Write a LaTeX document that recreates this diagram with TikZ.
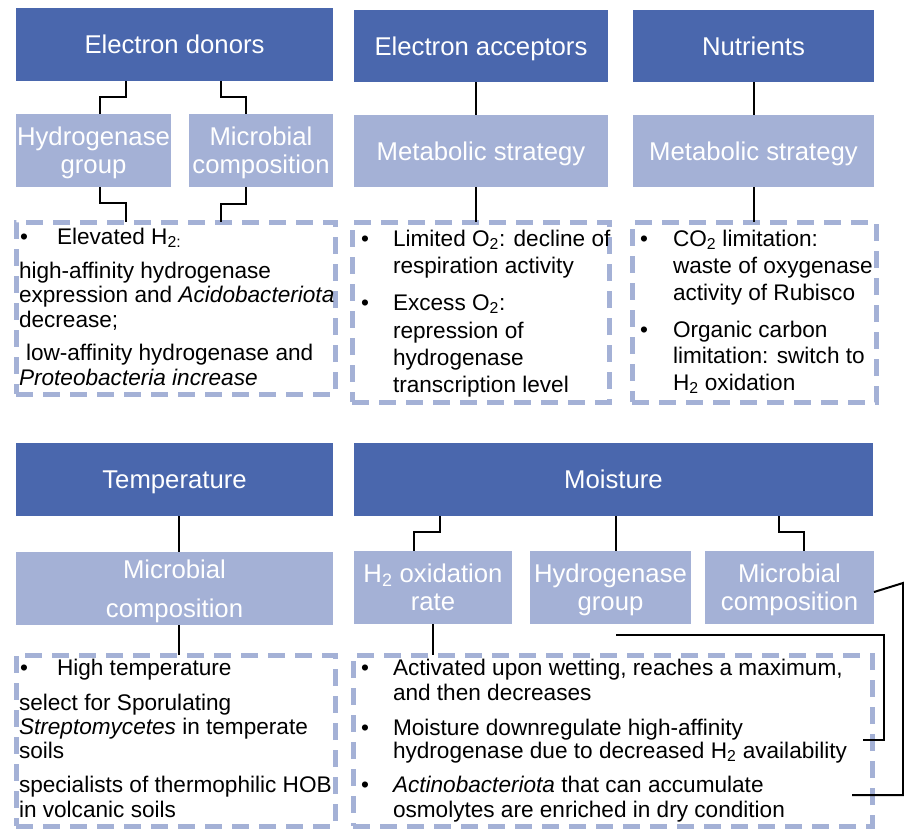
\documentclass[tikz,border=0pt]{standalone}
\usepackage{fontspec}
\setmainfont{Liberation Sans}
\definecolor{dkblue}{RGB}{74,103,173}
\definecolor{ltblue}{RGB}{164,177,214}
\newcommand{\titfont}{\fontsize{25.7}{28}\selectfont}
\newcommand{\bodfont}{\fontsize{22.6}{25}\selectfont}
\begin{document}
\begin{tikzpicture}[x=1pt,y=-1pt,
  darkbox/.style={fill=dkblue, text=white, font=\titfont, inner sep=0pt, outer sep=0pt, align=center, text depth=0pt},
  lightbox/.style={fill=ltblue, text=white, font=\titfont, inner sep=0pt, outer sep=0pt, align=center, text depth=0pt},
  dashbox/.style={draw=ltblue, line width=5pt, dash pattern=on 17pt off 10pt, inner sep=0pt, outer sep=0pt},
  conn/.style={draw=black, line width=2pt},
  txt/.style={anchor=base west, inner sep=0pt, outer sep=0pt, font=\bodfont, text=black}]
\useasboundingbox (0,0) rectangle (904,831);

% ---------- top row ----------
\node[darkbox, minimum width=317pt, minimum height=73pt] (ed) at (174.5,44.5) {Electron donors};
\node[darkbox, minimum width=254pt, minimum height=72pt] (ea) at (481,46) {Electron acceptors};
\node[darkbox, minimum width=241pt, minimum height=72pt] (nu) at (753.5,46) {Nutrients};

\node[lightbox, minimum width=155pt, minimum height=73pt] (hga) at (93.5,150.5) {Hydrogenase\\group};
\node[lightbox, minimum width=144pt, minimum height=73pt] (mca) at (261,150.5) {Microbial\\composition};
\node[lightbox, minimum width=254pt, minimum height=72pt] (msa) at (481,151) {Metabolic strategy};
\node[lightbox, minimum width=241pt, minimum height=72pt] (msb) at (753.5,151) {Metabolic strategy};

\node[dashbox, minimum width=319pt, minimum height=172pt] (da) at (175.5,308) {};
\node[dashbox, minimum width=257pt, minimum height=180pt] (db) at (480.5,312) {};
\node[dashbox, minimum width=244pt, minimum height=180pt] (dc) at (754,312) {};

% ---------- bottom row ----------
\node[darkbox, minimum width=317pt, minimum height=73pt] (te) at (174.5,479.5) {Temperature};
\node[darkbox, minimum width=519pt, minimum height=73pt] (mo) at (613.5,479.5) {Moisture};

\node[lightbox, minimum width=317pt, minimum height=73pt, font=\fontsize{25.7}{39}\selectfont] (mcc) at (174.5,588.5) {Microbial\\composition};
\node[lightbox, minimum width=158pt, minimum height=73pt] (hr) at (433,587.5) {H\textsubscript{2} oxidation\\rate};
\node[lightbox, minimum width=161pt, minimum height=73pt] (hgb) at (610.5,587.5) {Hydrogenase\\group};
\node[lightbox, minimum width=169pt, minimum height=73pt] (mcb) at (789.5,587.5) {Microbial\\composition};

\node[dashbox, minimum width=319pt, minimum height=171pt] (dd) at (175.5,740.5) {};
\node[dashbox, minimum width=519pt, minimum height=171pt] (de) at (612.5,740.5) {};

% ---------- connectors ----------
\draw[conn] ([xshift=-48.5pt]ed.south) -- ++(0,16) -| ([xshift=6.5pt]hga.north);
\draw[conn] ([xshift=46.5pt]ed.south) -- ++(0,16) -| ([xshift=-15pt]mca.north);
\draw[conn] ([xshift=6.5pt]hga.south) -- ++(0,16) -| ([xshift=-49.5pt]da.north);
\draw[conn] ([xshift=-15pt]mca.south) -- ++(0,17) -| ([xshift=45.5pt]da.north);
\draw[conn] ([xshift=-5pt]ea.south) -- ([xshift=-5pt]msa.north);
\draw[conn] ([xshift=-5pt]msa.south) -- ([xshift=-4.5pt]db.north);
\draw[conn] (nu.south) -- (msb.north);
\draw[conn] (msb.south) -- ([xshift=-0.5pt]dc.north);

\draw[conn] ([xshift=4.5pt]te.south) -- ([xshift=4.5pt]mcc.north);
\draw[conn] ([xshift=4.5pt]mcc.south) -- ([xshift=3.5pt]dd.north);
\draw[conn] ([xshift=-173.5pt]mo.south) -- ++(0,16) -| ([xshift=-19pt]hr.north);
\draw[conn] ([xshift=2.5pt]mo.south) -- ([xshift=5.5pt]hgb.north);
\draw[conn] ([xshift=165.5pt]mo.south) -- ++(0,16) -| ([xshift=14.5pt]mcb.north);
\draw[conn] (hr.south) -- ([xshift=-179.5pt]de.north);
\coordinate (hgstart) at (616,635);
\coordinate (hgend) at (863,740);
\draw[conn] (hgstart) -- (884,635) |- (hgend);
\coordinate (mcend) at (852,795);
\draw[conn] ([yshift=-4.5pt]mcb.east) -- (903,583) |- (mcend);

% ---------- texts: box A ----------
\node[txt] (ba1) at (20,244) {•};
\node[txt] (ta1) at (57,244) {Elevated H\textsubscript{2:}};
\node[txt] (ta2) at (19,278) {high-affinity hydrogenase};
\node[txt] (ta3) at (19,302) {expression and \textit{Acidobacteriota}};
\node[txt] (ta4) at (19,327) {decrease;};
\node[txt] (ta5) at (26,360) {low-affinity hydrogenase and};
\node[txt] (ta6) at (19,385) {\textit{Proteobacteria increase}};

% ---------- box B ----------
\node[txt] (bb1) at (361,246) {•};
\node[txt] (tb1) at (393,246) {Limited O\textsubscript{2}: decline of};
\node[txt] (tb2) at (393,273) {respiration activity};
\node[txt] (bb2) at (361,310) {•};
\node[txt] (tb3) at (393,310) {Excess O\textsubscript{2}:};
\node[txt] (tb4) at (393,338) {repression of};
\node[txt] (tb5) at (393,365) {hydrogenase};
\node[txt] (tb6) at (393,392) {transcription level};

% ---------- box C ----------
\node[txt] (bc1) at (640,246) {•};
\node[txt] (tc1) at (673,246) {CO\textsubscript{2} limitation:};
\node[txt] (tc2) at (673,273) {waste of oxygenase};
\node[txt] (tc3) at (673,300) {activity of Rubisco};
\node[txt] (bc2) at (640,337) {•};
\node[txt] (tc4) at (673,337) {Organic carbon};
\node[txt] (tc5) at (673,363) {limitation: switch to};
\node[txt] (tc6) at (673,390) {H\textsubscript{2} oxidation};

% ---------- box D ----------
\node[txt] (bd1) at (20,675) {•};
\node[txt] (td1) at (57,675) {High temperature};
\node[txt] (td2) at (19,710) {select for Sporulating};
\node[txt] (td3) at (19,734) {\textit{Streptomycetes} in temperate};
\node[txt] (td4) at (19,758) {soils};
\node[txt] (td5) at (19,792) {specialists of thermophilic HOB};
\node[txt] (td6) at (19,817) {in volcanic soils};

% ---------- box E ----------
\node[txt] (be1) at (361,675) {•};
\node[txt] (te1) at (393,675) {Activated upon wetting, reaches a maximum,};
\node[txt] (te2) at (393,700) {and then decreases};
\node[txt] (be2) at (361,735) {•};
\node[txt] (te3) at (393,735) {Moisture downregulate high-affinity};
\node[txt] (te4) at (393,758) {hydrogenase due to decreased H\textsubscript{2} availability};
\node[txt] (be3) at (361,792) {•};
\node[txt] (te5) at (393,792) {\textit{Actinobacteriota} that can accumulate};
\node[txt] (te6) at (393,817) {osmolytes are enriched in dry condition};
\end{tikzpicture}
\end{document}
